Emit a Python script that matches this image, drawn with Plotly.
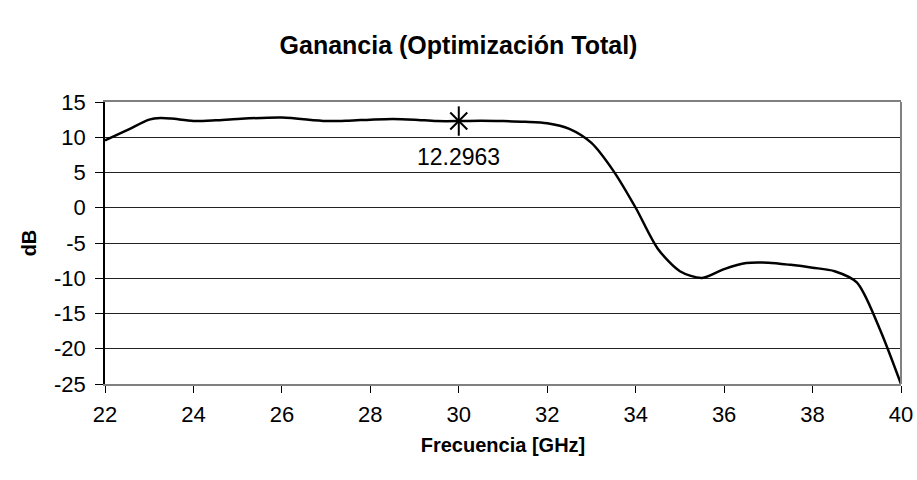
import plotly.graph_objects as go

# Gain response of the fully optimised design
freq_ghz = [22.0, 22.5, 23.0, 23.25, 23.5, 24.0, 24.5, 25.0, 26.0, 27.0, 27.5,
            28.0, 28.5, 29.0, 29.5, 30.0, 30.5, 31.0, 31.5, 32.0, 32.5, 33.0,
            33.5, 34.0, 34.5, 35.0, 35.5, 36.0, 36.5, 37.0, 37.5, 38.0, 38.5,
            39.0, 39.5, 40.0]
gain_db = [9.55, 11.0, 12.5, 12.73, 12.65, 12.3, 12.4, 12.6, 12.8, 12.3, 12.35,
           12.5, 12.6, 12.5, 12.3, 12.2963, 12.35, 12.3, 12.2, 12.0, 11.2, 9.2,
           5.2, 0.0, -5.8, -9.0, -9.95, -8.7, -7.85, -7.8, -8.1, -8.5, -9.0,
           -10.6, -16.9, -25.0]

# Highlighted point
mark_freq = [30.0]
mark_gain = [12.2963]

x_ticks = [22, 24, 26, 28, 30, 32, 34, 36, 38, 40]
y_ticks = [15, 10, 5, 0, -5, -10, -15, -20, -25]

FONT = "Liberation Sans, Arial, sans-serif"

fig = go.Figure()

fig.add_trace(go.Scatter(
    x=freq_ghz, y=gain_db, mode="lines",
    line=dict(color="black", width=2.5, shape="spline", smoothing=0.8),
    hoverinfo="skip", showlegend=False,
))

# six-armed asterisk built from a vertical bar and a thin cross
fig.add_trace(go.Scatter(
    x=mark_freq, y=mark_gain, mode="markers",
    marker=dict(symbol="line-ns-open", size=21, color="black",
                line=dict(color="black", width=2)),
    showlegend=False,
))
fig.add_trace(go.Scatter(
    x=mark_freq, y=mark_gain, mode="markers",
    marker=dict(symbol="x-thin-open", size=17, color="black",
                line=dict(color="black", width=2)),
    showlegend=False,
))

fig.add_annotation(
    x=mark_freq[0], y=mark_gain[0], text=f"{mark_gain[0]:.4f}",
    showarrow=False, yshift=-36,
    font=dict(family=FONT, size=23, color="black"),
)

# right-hand frame edge
fig.add_shape(type="line", xref="paper", yref="paper", x0=1, x1=1, y0=0, y1=1,
              line=dict(color="#808080", width=2), layer="above")

fig.update_layout(
    width=917, height=480,
    margin=dict(l=105, r=16, t=102, b=96),
    paper_bgcolor="white", plot_bgcolor="white",
    title=dict(text="<b>Ganancia (Optimización Total)</b>",
               x=0.5, xanchor="center", y=1 - 45 / 480, yanchor="middle",
               font=dict(family=FONT, size=25, color="black")),
    font=dict(family=FONT, color="black"),
    xaxis=dict(
        range=[22, 40], tickvals=x_ticks, ticktext=[str(v) for v in x_ticks],
        showgrid=False, zeroline=False, automargin=False,
        showline=True, linecolor="#808080", linewidth=2, mirror=True,
        ticks="outside", ticklen=7, tickcolor="black", tickwidth=1,
        ticklabelstandoff=3,
        tickfont=dict(family=FONT, size=22, color="black"),
        title=dict(text="<b>Frecuencia [GHz]</b>", standoff=12,
                   font=dict(family=FONT, size=20, color="black")),
    ),
    yaxis=dict(
        range=[-25, 15], tickvals=y_ticks, ticktext=[str(v) for v in y_ticks],
        showgrid=True, gridcolor="#222222", gridwidth=1, zeroline=False,
        showline=True, linecolor="black", linewidth=1.5, automargin=False,
        ticks="outside", ticklen=8, tickcolor="black", tickwidth=1,
        ticklabelstandoff=5,
        tickfont=dict(family=FONT, size=22, color="black"),
        title=dict(text="<b>dB</b>", standoff=12,
                   font=dict(family=FONT, size=20, color="black")),
    ),
)

fig.write_html("out.html")
